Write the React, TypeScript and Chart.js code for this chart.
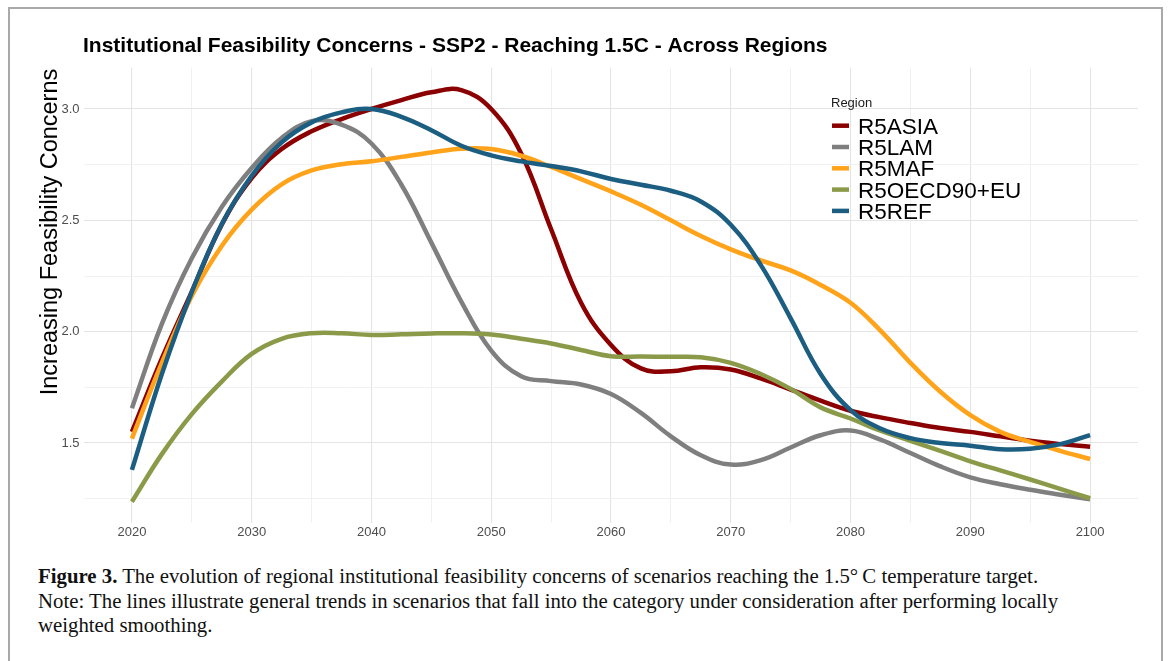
import React, { useEffect, useRef } from 'react';
import { Chart, registerables } from 'chart.js';

Chart.register(...registerables);

// ---- Data ----
const years = [
  2020, 2022.5, 2025, 2027.5, 2030, 2032.5, 2035, 2037.5, 2040, 2042.5, 2045,
  2047.5, 2050, 2052.5, 2055, 2057.5, 2060, 2062.5, 2065, 2067.5, 2070, 2072.5,
  2075, 2077.5, 2080, 2082.5, 2085, 2087.5, 2090, 2092.5, 2095, 2097.5, 2100,
];

const r5asia = [
  1.55, 1.88, 2.18, 2.48, 2.69, 2.82, 2.9, 2.955, 3.0, 3.04, 3.075,
  3.085, 3.0, 2.8, 2.46, 2.13, 1.94, 1.835, 1.822, 1.84, 1.83, 1.79,
  1.74, 1.69, 1.645, 1.615, 1.59, 1.567, 1.55, 1.53, 1.51, 1.495, 1.483,
];
const r5lam = [
  1.656, 2.035, 2.33, 2.56, 2.735, 2.87, 2.945, 2.93, 2.845, 2.66, 2.4,
  2.135, 1.915, 1.8, 1.778, 1.763, 1.72, 1.635, 1.53, 1.445, 1.403, 1.423,
  1.48, 1.535, 1.556, 1.515, 1.455, 1.395, 1.346, 1.315, 1.29, 1.268, 1.247,
];
const r5maf = [
  1.52, 1.86, 2.16, 2.385, 2.548, 2.662, 2.724, 2.752, 2.765, 2.785, 2.805,
  2.822, 2.82, 2.79, 2.74, 2.685, 2.63, 2.57, 2.5, 2.43, 2.37, 2.32,
  2.275, 2.21, 2.13, 2.005, 1.86, 1.73, 1.625, 1.55, 1.505, 1.465, 1.428,
];
const r5oecd = [
  1.236, 1.45, 1.63, 1.776, 1.9, 1.968, 1.993, 1.993, 1.985, 1.988, 1.992,
  1.993, 1.987, 1.968, 1.947, 1.918, 1.89, 1.888, 1.887, 1.885, 1.86, 1.81,
  1.743, 1.66, 1.61, 1.555, 1.51, 1.465, 1.418, 1.377, 1.336, 1.294, 1.252,
];
const r5ref = [
  1.379, 1.81, 2.178, 2.483, 2.7, 2.85, 2.94, 2.985, 3.0, 2.965, 2.905,
  2.835, 2.792, 2.765, 2.744, 2.72, 2.686, 2.66, 2.633, 2.585, 2.48, 2.3,
  2.06, 1.81, 1.648, 1.565, 1.522, 1.5, 1.488, 1.472, 1.474, 1.495, 1.535,
];

const regionNames = ['R5ASIA', 'R5LAM', 'R5MAF', 'R5OECD90+EU', 'R5REF'];
const regionColors = ['#8b0000', '#7f7f7f', '#ffa31a', '#8a9a48', '#1b5e82'];
const regionValues = [r5asia, r5lam, r5maf, r5oecd, r5ref];

const xGridYears = [2020, 2025, 2030, 2035, 2040, 2045, 2050, 2055, 2060, 2065, 2070, 2075, 2080, 2085, 2090, 2095, 2100];
const xTickLabels = ['2020', '2030', '2040', '2050', '2060', '2070', '2080', '2090', '2100'];
const yGridValues = [1.25, 1.5, 1.75, 2.0, 2.25, 2.5, 2.75, 3.0];
const yTickLabels = ['1.5', '2.0', '2.5', '3.0'];

const chartTitle = 'Institutional Feasibility Concerns - SSP2 - Reaching 1.5C - Across Regions';
const yAxisTitle = 'Increasing Feasibility Concerns';
const legendTitle = 'Region';

const SANS = '"Liberation Sans", Arial, sans-serif';

const isHalf = (v: number) => Math.abs(v * 2 - Math.round(v * 2)) < 1e-6;

const overlayPlugin = {
  id: 'overlayText',
  afterDraw(chart: any) {
    const ctx = chart.ctx as CanvasRenderingContext2D;
    ctx.save();
    // Title
    ctx.fillStyle = '#000';
    ctx.textAlign = 'left';
    ctx.textBaseline = 'alphabetic';
    ctx.font = `bold 21px ${SANS}`;
    ctx.fillText(chartTitle, 83, 52);
    // Y axis title
    ctx.save();
    ctx.translate(57, 232);
    ctx.rotate(-Math.PI / 2);
    ctx.textAlign = 'center';
    ctx.font = `23.5px ${SANS}`;
    ctx.fillText(yAxisTitle, 0, 0);
    ctx.restore();
    // Legend
    ctx.fillStyle = '#1a1a1a';
    ctx.font = `13px ${SANS}`;
    ctx.fillText(legendTitle, 831, 107);
    ctx.font = `22.5px ${SANS}`;
    regionNames.forEach((name, i) => {
      const cy = 125.7 + i * 21.3;
      ctx.strokeStyle = regionColors[i];
      ctx.lineWidth = 4.5;
      ctx.lineCap = 'butt';
      ctx.beginPath();
      ctx.moveTo(832, cy);
      ctx.lineTo(849, cy);
      ctx.stroke();
      ctx.fillStyle = '#000';
      ctx.fillText(name, 858, cy + 8);
    });
    ctx.restore();
  },
};

export default function App() {
  const canvasRef = useRef<HTMLCanvasElement | null>(null);

  useEffect(() => {
    if (!canvasRef.current) return;
    const datasets = regionNames.map((name, i) => ({
      label: name,
      data: years.map((yr, j) => ({ x: yr, y: regionValues[i][j] })),
      borderColor: regionColors[i],
      backgroundColor: regionColors[i],
      borderWidth: 4.5,
      borderCapStyle: 'butt' as const,
      pointRadius: 0,
      pointHoverRadius: 0,
      tension: 0.4,
      fill: false,
      order: regionNames.length - i,
    }));

    const chart = new Chart(canvasRef.current, {
      type: 'line',
      data: { datasets },
      options: {
        animation: false,
        responsive: false,
        devicePixelRatio: 1,
        events: [],
        layout: { padding: { left: 0, right: 30, top: 67.6, bottom: 7.5 } },
        plugins: {
          legend: { display: false },
          title: { display: false },
          tooltip: { enabled: false },
        },
        scales: {
          x: {
            type: 'linear',
            min: 2016,
            max: 2104,
            afterFit: (scale: any) => {
              scale.height = 30;
            },
            afterBuildTicks: (axis: any) => {
              axis.ticks = xGridYears.map((v) => ({ value: v }));
            },
            border: { display: false },
            grid: {
              drawTicks: false,
              color: (c: any) => (c.tick && xTickLabels.includes(String(c.tick.value)) ? '#e4e4e4' : '#efefef'),
              lineWidth: (c: any) => (c.tick && xTickLabels.includes(String(c.tick.value)) ? 1.1 : 0.9),
            },
            ticks: {
              autoSkip: false,
              maxRotation: 0,
              padding: 2,
              color: '#4d4d4d',
              font: { family: SANS, size: 13 },
              callback: (v: any) => (xTickLabels.includes(String(v)) ? String(v) : ''),
            },
          },
          y: {
            type: 'linear',
            min: 1.143,
            max: 3.186,
            afterFit: (scale: any) => {
              scale.width = 84;
            },
            afterBuildTicks: (axis: any) => {
              axis.ticks = yGridValues.map((v) => ({ value: v }));
            },
            border: { display: false },
            grid: {
              drawTicks: false,
              color: (c: any) => (c.tick && isHalf(c.tick.value) ? '#e4e4e4' : '#efefef'),
              lineWidth: (c: any) => (c.tick && isHalf(c.tick.value) ? 1.1 : 0.9),
            },
            ticks: {
              autoSkip: false,
              padding: 4.5,
              color: '#4d4d4d',
              font: { family: SANS, size: 13 },
              callback: (v: any) => {
                const n = Number(v);
                const s = n.toFixed(1);
                return isHalf(n) && yTickLabels.includes(s) ? s : '';
              },
            },
          },
        },
      },
      plugins: [overlayPlugin],
    });
    return () => chart.destroy();
  }, []);

  return (
    <div style={{ position: 'absolute', left: 0, top: 0, width: 1168, height: 661, background: '#fff', overflow: 'hidden' }}>
      <div
        style={{
          position: 'absolute',
          left: 8,
          top: 7,
          width: 1155,
          height: 720,
          boxSizing: 'border-box',
          border: '2px solid #a9a9a9',
        }}
      />
      <canvas
        ref={canvasRef}
        width={1168}
        height={560}
        style={{ position: 'absolute', left: 0, top: 0, width: 1168, height: 560 }}
      />
      <div
        style={{
          position: 'absolute',
          left: 38,
          top: 564,
          fontFamily: '"Liberation Serif", "DejaVu Serif", serif',
          fontSize: 20.8,
          lineHeight: '24.5px',
          color: '#111',
          whiteSpace: 'nowrap',
        }}
      >
        <b>Figure 3.</b> The evolution of regional institutional feasibility concerns of scenarios reaching the 1.5°{'\u2009'}C temperature target.
        <br />
        Note: The lines illustrate general trends in scenarios that fall into the category under consideration after performing locally
        <br />
        weighted smoothing.
      </div>
    </div>
  );
}
